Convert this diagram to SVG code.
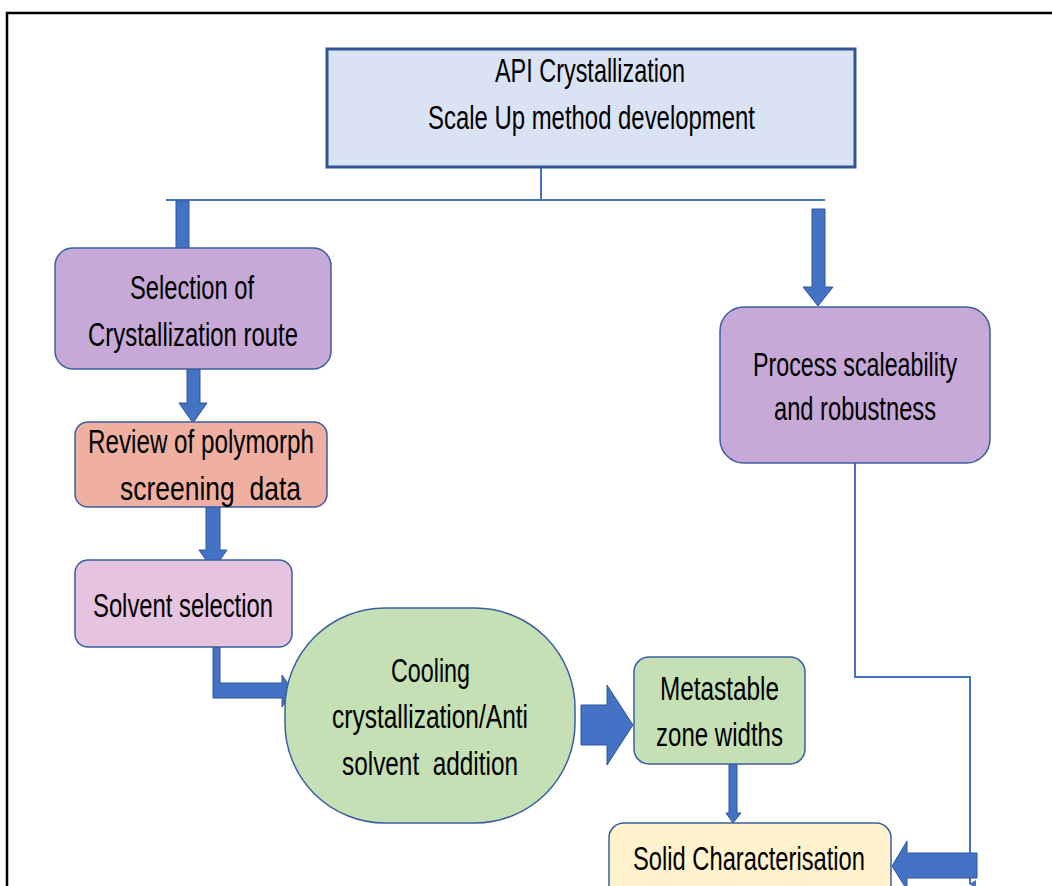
<svg xmlns="http://www.w3.org/2000/svg" width="1052" height="886" viewBox="0 0 1052 886">
<style>
.t{font-family:"Liberation Sans Narrow","Liberation Sans",Arial,sans-serif;font-size:34px;fill:#000;white-space:pre}
.node{stroke:#3A5FA0;stroke-width:1.5}
.thin{fill:none;stroke:#4472C4;stroke-width:2}
.blk{fill:#4472C4;stroke:#2F5597;stroke-width:1}
</style>
<defs>
<marker id="sm" markerWidth="8" markerHeight="8" refX="4" refY="6" orient="auto" markerUnits="userSpaceOnUse">
<path d="M0,0 L8,0 L4,7 Z" fill="#4472C4"/>
</marker>
</defs>
<rect width="1052" height="886" fill="#fff"/>
<path d="M7,886 V13 H1052" fill="none" stroke="#000" stroke-width="2.5"/>

<g id="connectors">
<path class="thin" d="M541,152 V200"/>
<path class="thin" d="M166,200 H825"/>
<path class="thin" d="M855,463 V677 H970 V884" marker-end="url(#sm)"/>
<path class="blk" d="M176,201 H189 V253 H194 L183,268 L172,253 H176 Z"/>
<path class="blk" d="M812,209 H825 V287 H833 L818,306 L803,287 H812 Z"/>
<path class="blk" d="M187,369 H200 V403 H207 L193,423 L179,403 H187 Z"/>
<path class="blk" d="M206,507 H220 V550 H227 L213,570 L199,550 H206 Z"/>
<path class="blk" d="M213,647 H220 V683 H282 V675 L293,691 L282,707 V698 H213 Z"/>
<path class="blk" d="M581,705 H607 V685 L633,725 L607,765 V745 H581 Z"/>
<path class="blk" d="M729,754 H737 V813 H741 L733,823 L726,813 H729 Z"/>
<path class="blk" d="M977,853 V878 H907 V890 L892,866 L907,841 V853 Z"/>
</g>

<g id="api">
<rect x="327" y="49" width="528" height="118" fill="#DAE3F3" stroke="#2F5597" stroke-width="3"/>
<text class="t" x="495" y="82" textLength="190" lengthAdjust="spacingAndGlyphs">API Crystallization</text>
<text class="t" x="428" y="129" textLength="327" lengthAdjust="spacingAndGlyphs">Scale Up method development</text>
</g>

<g id="selection">
<rect class="node" x="55" y="248" width="276" height="121" rx="18" fill="#C6A9D6"/>
<text class="t" x="130" y="299" textLength="124" lengthAdjust="spacingAndGlyphs">Selection of</text>
<text class="t" x="88" y="346" textLength="210" lengthAdjust="spacingAndGlyphs">Crystallization route</text>
</g>

<g id="review">
<rect class="node" x="75" y="422" width="252" height="85" rx="13" fill="#EFB0A1"/>
<text class="t" x="88" y="453" textLength="226" lengthAdjust="spacingAndGlyphs">Review of polymorph</text>
<text class="t" x="120" y="500" textLength="181" lengthAdjust="spacingAndGlyphs">screening  data</text>
</g>

<g id="solvent">
<rect class="node" x="75" y="560" width="217" height="87" rx="13" fill="#E6C3DE"/>
<text class="t" x="93" y="617" textLength="180" lengthAdjust="spacingAndGlyphs">Solvent selection</text>
</g>

<g id="process">
<rect class="node" x="720" y="307" width="270" height="156" rx="24" fill="#C6A9D6"/>
<text class="t" x="753" y="376" textLength="204" lengthAdjust="spacingAndGlyphs">Process scaleability</text>
<text class="t" x="774" y="420" textLength="162" lengthAdjust="spacingAndGlyphs">and robustness</text>
</g>

<g id="cooling">
<rect class="node" x="285" y="608" width="290" height="215" rx="100" ry="100" fill="#C5E0B4"/>
<text class="t" x="391" y="682" textLength="79" lengthAdjust="spacingAndGlyphs">Cooling</text>
<text class="t" x="332" y="728" textLength="196" lengthAdjust="spacingAndGlyphs">crystallization/Anti</text>
<text class="t" x="342" y="775" textLength="176" lengthAdjust="spacingAndGlyphs">solvent  addition</text>
</g>

<g id="metastable">
<rect class="node" x="634" y="657" width="171" height="107" rx="15" fill="#C5E0B4"/>
<text class="t" x="660" y="700" textLength="119" lengthAdjust="spacingAndGlyphs">Metastable</text>
<text class="t" x="656" y="746" textLength="127" lengthAdjust="spacingAndGlyphs">zone widths</text>
</g>

<g id="solid">
<rect class="node" x="609" y="823" width="282" height="80" rx="15" fill="#FFF2CC"/>
<text class="t" x="633" y="870" textLength="232" lengthAdjust="spacingAndGlyphs">Solid Characterisation</text>
</g>
</svg>
